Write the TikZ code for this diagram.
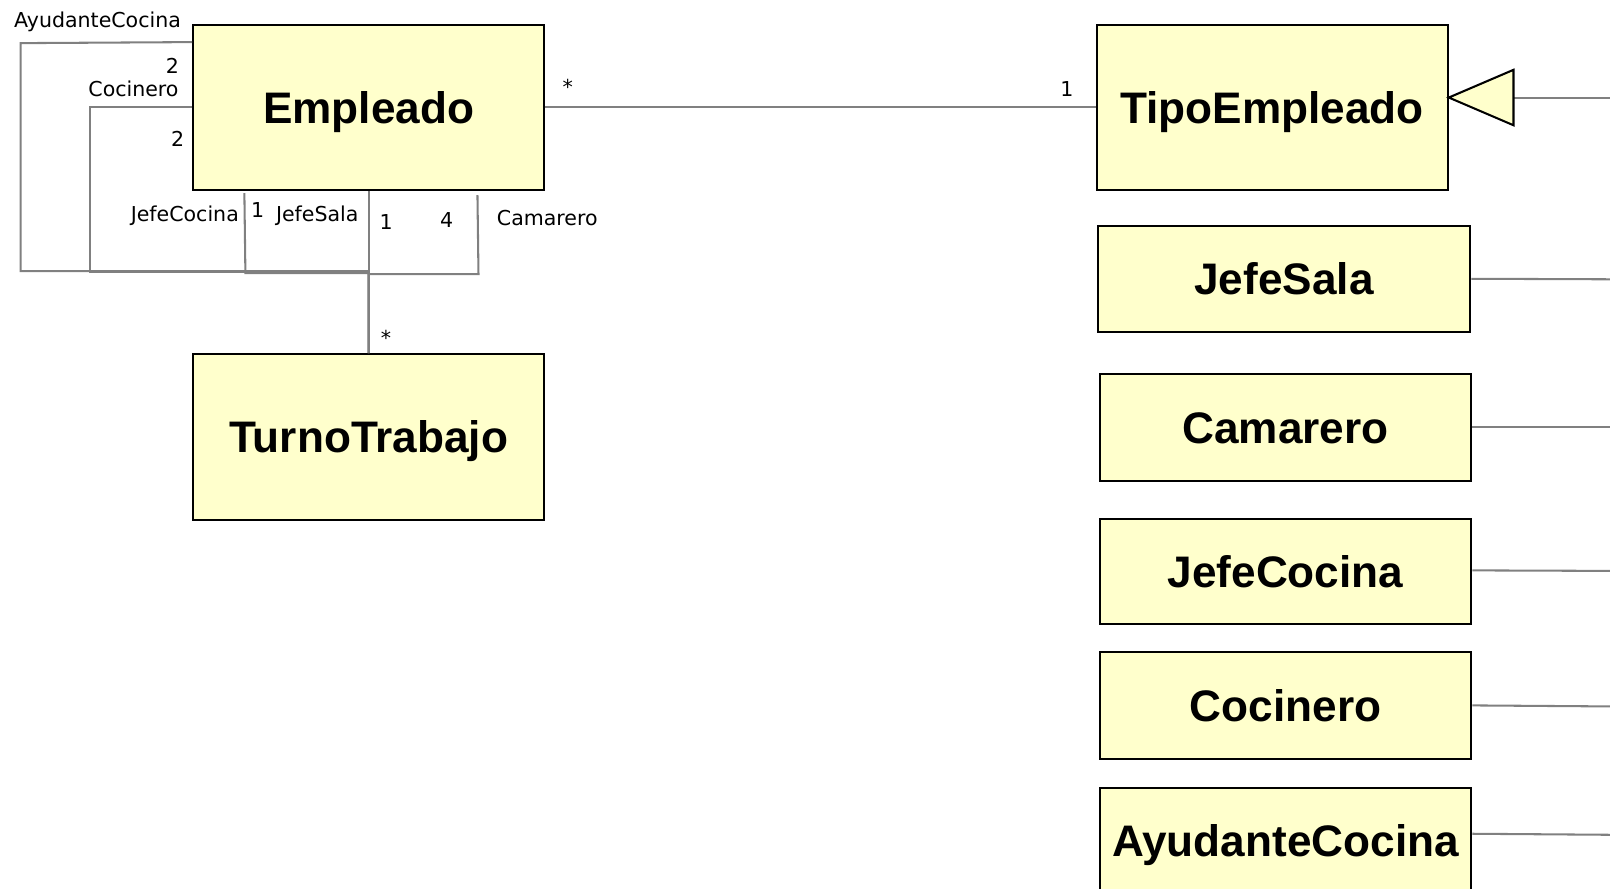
\documentclass[tikz,border=0pt]{standalone}
\usepackage{fontspec}
\setmainfont{DejaVu Sans}
\newfontfamily\bigfont{Liberation Sans}
\usetikzlibrary{calc}
\definecolor{clsfill}{HTML}{FFFFCC}
\definecolor{linegray}{HTML}{808080}
\begin{document}
\begin{tikzpicture}[x=1pt,y=-1pt,
  cls/.style={draw=black, line width=2pt, fill=clsfill, inner sep=0pt,
    text height=31pt, text depth=0pt,
    font=\bigfont\bfseries\fontsize{43}{50}\selectfont},
  assoc/.style={draw=linegray, line width=2pt},
  lbl/.style={font=\fontsize{20}{24}\selectfont, inner sep=0pt}]
\useasboundingbox (0,0) rectangle (1568,865);
\clip (0,0) rectangle (1568,865);
\fill[white] (0,0) rectangle (1568,865);

% classes
\node[cls, minimum width=342pt, minimum height=161pt] (emp) at (359,104.5) {Empleado};
\node[cls, minimum width=342pt, minimum height=161pt] (tt) at (359,425.5) {TurnoTrabajo};
\node[cls, minimum width=342pt, minimum height=161pt] (tipo) at (1239,104.5) {TipoEmpleado};
\node[cls, minimum width=363pt, minimum height=103pt] (js) at (1250.5,271.5) {JefeSala};
\node[cls, minimum width=362pt, minimum height=104pt] (cam) at (1252,416) {Camarero};
\node[cls, minimum width=362pt, minimum height=103pt] (jc) at (1252,556.5) {JefeCocina};
\node[cls, minimum width=362pt, minimum height=104pt] (coc) at (1252,687) {Cocinero};
\node[cls, minimum width=362pt, minimum height=104pt] (ayu) at (1252,819) {AyudanteCocina};

% associations Empleado - TurnoTrabajo
\draw[assoc] ($(emp.north west)+(0,18)$) -- (20,42) -- (20,264) -- (359,264) -- (tt.north);
\draw[assoc] (emp.west) -- (88,104.5) -- (88,265) -- (359,265) -- (tt.north);
\draw[assoc] ($(emp.south west)+(51,2)$) -- (239,266) -- (359,266) -- (tt.north);
\draw[assoc] (emp.south) -- (tt.north);
\draw[assoc] ($(emp.south west)+(278,4)$) -- (466,267) -- (359,267) -- (tt.north);

% Empleado - TipoEmpleado
\draw[assoc] (emp.east) -- (tipo.west);

% generalization
\coordinate (tip) at ($(tipo.east)+(0,-9.5)$);
\coordinate (tb) at (1474,95);
\coordinate (rgen) at (1568,95);
\draw[assoc] (tb) -- (rgen);
\draw[black, line width=2pt, fill=clsfill, line join=miter] (tip) -- (1474,68) -- (1474,122) -- cycle;

\coordinate (rjs) at (1568,272);
\coordinate (rcam) at (1568,416);
\coordinate (rjc) at (1568,556);
\coordinate (rcoc) at (1568,688);
\coordinate (rayu) at (1568,813);
\draw[assoc] (js.east) -- (rjs);
\draw[assoc] (cam.east) -- (rcam);
\draw[assoc] ($(jc.east)+(0,-1)$) -- (rjc);
\draw[assoc] (coc.east) -- (rcoc);
\draw[assoc] ($(ayu.east)+(0,-7)$) -- (rayu);

% labels
\node[lbl] (l1) at (95,21) {AyudanteCocina};
\node[lbl] (l2) at (168,64) {2};
\node[lbl] (l3) at (130,87) {Cocinero};
\node[lbl] (l4) at (173,135) {2};
\node[lbl] (l5) at (180,210) {JefeCocina};
\node[lbl] (l6) at (251,205) {1};
\node[lbl] (l7) at (309,210) {JefeSala};
\node[lbl] (l8) at (376,216) {1};
\node[lbl] (l9) at (435,214) {4};
\node[lbl] (l10) at (533,212) {Camarero};
\node[lbl] (l11) at (376,329) {*};
\node[lbl] (l12) at (553,85) {*};
\node[lbl] (l13) at (1039,87) {1};
\end{tikzpicture}
\end{document}
